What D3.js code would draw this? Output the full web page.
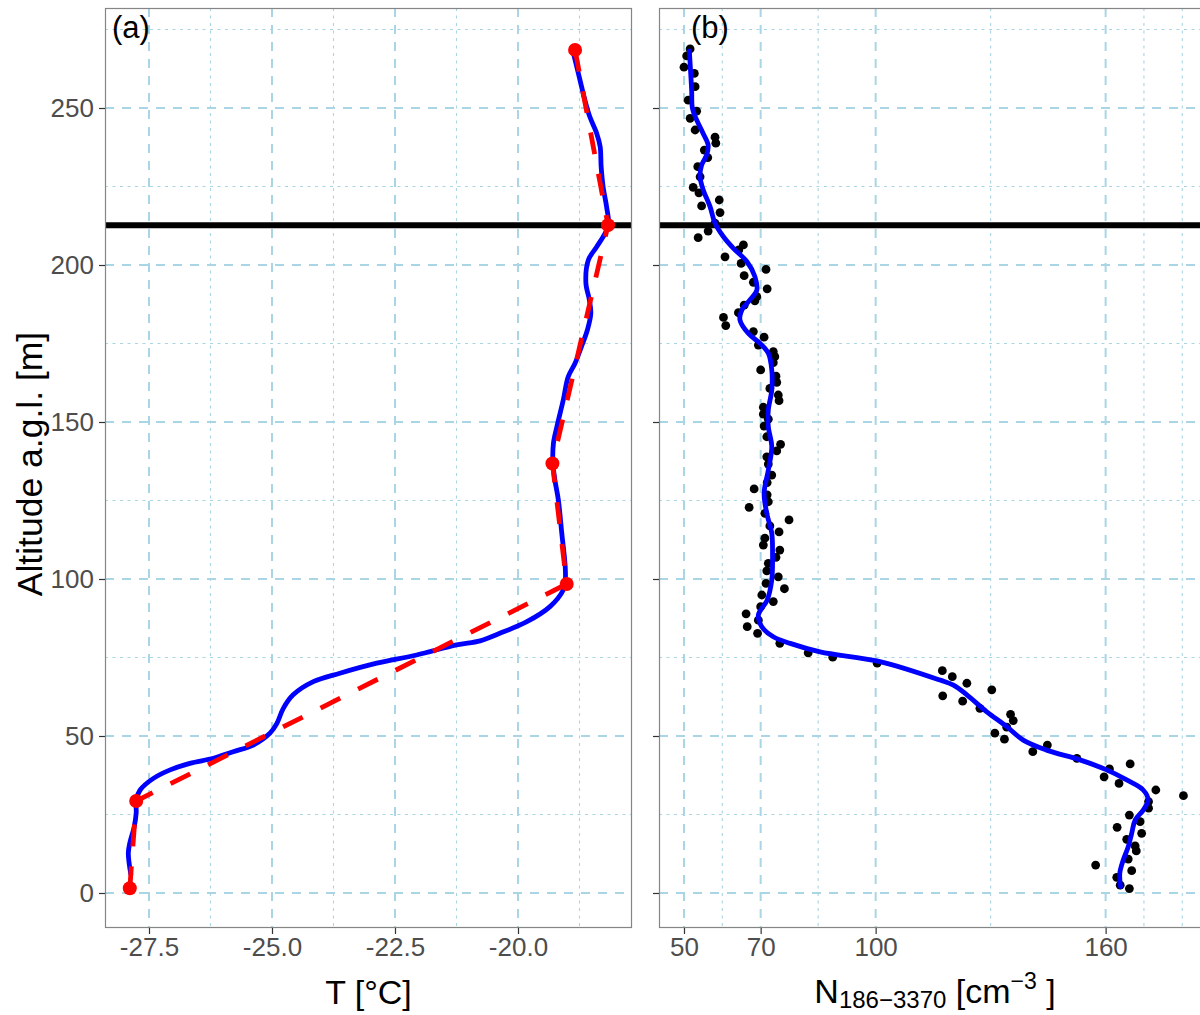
<!DOCTYPE html>
<html><head><meta charset="utf-8">
<script src="https://cdn.jsdelivr.net/npm/d3@7"></script>
<style>
body{margin:0;background:#fff;}
svg{display:block;font-family:"Liberation Sans",Arial,sans-serif;}
</style></head>
<body>
<svg id="chart" width="1200" height="1015"></svg>
<script>
// ---------- data ----------
// Panel (a): temperature profile (blue, smoothed)
const tempAlt = [6,12.7,15.9,21.1,25.5,29.6,32.8,36.5,39.2,41.3,42.9,45.0,47.1,50.9,54.0,58.8,63.1,67.3,70.0,73.2,75.8,79.0,80.3,82.7,86.4,91.2,96.5,99.1,103.9,114.6,125.2,131.5,136.8,143.2,148.5,157.0,164.4,168.7,174.0,179.3,184.6,188.9,194.2,201.6,205.8,210.1,212.7,218.6,224.9,231.3,237.7,241.9,247.2,252.5,258.9,265.3,267.9];
const tempT   = [-27.87,-27.92,-27.89,-27.80,-27.76,-27.76,-27.68,-27.41,-27.07,-26.67,-26.19,-25.79,-25.38,-25.04,-24.90,-24.77,-24.57,-24.16,-23.62,-22.87,-22.06,-21.25,-20.77,-20.37,-19.82,-19.35,-19.08,-19.04,-19.04,-19.11,-19.18,-19.25,-19.29,-19.28,-19.21,-19.08,-18.98,-18.84,-18.71,-18.59,-18.52,-18.55,-18.62,-18.57,-18.40,-18.23,-18.16,-18.20,-18.27,-18.31,-18.33,-18.40,-18.54,-18.64,-18.74,-18.84,-18.88];
// Panel (a): red dashed profile through points
const redAlt = [1.5,29.3,98.4,136.8,212.7,268.5];
const redT   = [-27.89,-27.76,-19.01,-19.30,-18.17,-18.84];
// Panel (b): particle number concentration observations
const obsAlt = [268.8,266.6,263.0,261.0,256.8,252.5,249.0,246.7,243.0,240.7,238.8,236.6,234.2,231.3,228.1,224.7,223.0,220.7,218.8,216.7,213.3,210.8,208.7,206.4,204.8,202.6,200.5,198.6,196.6,194.5,192.4,189.9,188.6,187.2,184.8,183.3,180.7,178.8,177.0,174.5,172.4,170.8,168.9,166.6,164.6,162.6,160.7,158.6,156.8,154.7,152.5,150.9,148.7,145.3,142.9,140.8,138.9,136.6,133.1,130.7,128.7,126.8,124.6,122.8,120.9,118.8,116.9,115.0,113.0,110.8,109.2,106.9,105.0,102.6,100.7,98.6,96.9,94.9,92.8,91.2,88.9,86.9,84.8,82.7,79.5,76.5,75.1,73.2,70.8,68.9,66.8,62.8,64.7,61.1,58.8,56.9,54.9,52.8,50.9,49.0,45.0,47.1,42.9,39.5,41.1,37.0,34.9,32.8,31.0,29.1,27.0,24.8,22.7,20.9,19.0,17.1,15.0,13.4,10.8,8.9,7.1,5.0,2.5,1.4];
const obsN   = [51.6,50.7,50.0,52.7,52.9,51.1,53.3,51.6,52.9,58.1,58.3,55.3,56.2,53.6,54.2,52.4,53.9,59.2,54.6,59.4,58.1,56.3,53.7,65.5,64.3,60.7,64.9,71.4,65.7,68.1,71.7,69.0,68.5,65.7,64.2,60.3,60.9,68.1,70.9,69.4,73.3,73.7,73.3,70.0,74.0,74.2,72.4,74.6,74.8,70.7,70.7,72.0,70.9,71.6,75.2,74.2,71.6,72.0,72.9,71.7,68.3,71.7,72.0,67.0,71.1,77.4,72.4,74.8,71.1,70.7,75.0,74.0,72.0,71.6,74.6,71.4,76.2,70.3,73.3,70.0,66.2,69.4,66.5,69.2,75.0,82.4,88.8,100.4,117.4,120.0,123.8,117.5,130.3,122.7,127.2,135.2,135.9,134.2,131.1,133.6,141.0,144.8,152.5,161.0,166.4,159.6,163.5,173.1,180.3,171.2,171.2,166.2,169.0,163.0,169.4,165.5,167.7,168.0,165.9,157.4,166.8,162.9,163.8,166.2];
// Panel (b): smoothed profile
const fitAlt = [268.2,262.1,255.7,249.9,246.2,241.9,238.2,235.0,231.8,228.1,224.0,218.6,213.3,209.0,205.3,201.1,196.3,192.0,188.9,185.7,182.5,178.2,175.1,171.9,166.6,160.2,153.8,148.5,142.1,134.7,127.3,120.9,114.6,108.2,99.7,93.3,88.5,84.8,81.6,79.5,76.8,73.7,67.8,66.2,63.1,57.7,53.0,48.7,45.5,42.4,39.2,36.0,32.8,29.6,26.4,23.2,19.0,14.7,10.5,6.3,2.0];
const fitN   = [51.4,51.7,52.0,52.2,53.3,55.0,56.3,55.9,54.6,54.2,55.0,56.8,58.1,60.3,62.9,66.4,68.5,69.0,67.2,65.1,64.6,66.8,69.8,72.0,72.9,72.9,72.0,72.0,72.9,72.0,70.9,71.6,72.9,73.1,72.9,71.7,69.4,70.3,73.3,77.7,85.5,101.1,116.8,120.3,123.8,129.0,134.2,138.5,144.6,153.3,160.3,165.5,169.8,171.1,169.8,167.7,166.8,165.9,164.6,163.7,163.9];
// Boundary layer top (black line)
const blTop = 212.7;
// Tick / grid definitions
const altMajor = [0,50,100,150,200,250];
const altMinor = [25,75,125,175,225,275];
const tMajor = [-27.5,-25,-22.5,-20];
const tMajorLabels = ["-27.5","-25.0","-22.5","-20.0"];
const tMinor = [-26.25,-23.75,-21.25,-18.75];
const nMajor = [50,70,100,160];
const nMinor = [60,85,130,170,180];

// ---------- layout ----------
const svg = d3.select("#chart");
const pTop = 8, pBottom = 928;
const pa = {x0:105, x1:632};
const pb = {x0:659, x1:1215};
const y = d3.scaleLinear().domain([-11.15, 281.85]).range([pBottom, pTop]);
const xa = d3.scaleLinear().domain([-28.394, -17.683]).range([pa.x0, pa.x1]);
const xb = d3.scaleLinear().domain([43.48, 43.48 + (pb.x1-pb.x0)/3.833]).range([pb.x0, pb.x1]);

const gridCol = "#a9d5e4";
const tickCol = "#4d4d4d";

function panel(p, xs, xMaj, xMin, id){
  const g = svg.append("g");
  svg.append("clipPath").attr("id", id).append("rect")
    .attr("x", p.x0).attr("y", pTop).attr("width", p.x1-p.x0).attr("height", pBottom-pTop);
  const gg = g.append("g").attr("clip-path", `url(#${id})`);
  gg.selectAll(".hmin").data(altMinor).join("line")
    .attr("x1", p.x0).attr("x2", p.x1).attr("y1", d=>y(d)).attr("y2", d=>y(d))
    .attr("stroke", gridCol).attr("stroke-width", 1.1).attr("stroke-dasharray", "3,4.5");
  gg.selectAll(".vmin").data(xMin).join("line")
    .attr("y1", pTop).attr("y2", pBottom).attr("x1", d=>xs(d)).attr("x2", d=>xs(d))
    .attr("stroke", gridCol).attr("stroke-width", 1.1).attr("stroke-dasharray", "3,4.5");
  gg.selectAll(".hmaj").data(altMajor).join("line")
    .attr("x1", p.x0).attr("x2", p.x1).attr("y1", d=>y(d)).attr("y2", d=>y(d))
    .attr("stroke", gridCol).attr("stroke-width", 2).attr("stroke-dasharray", "9,8");
  gg.selectAll(".vmaj").data(xMaj).join("line")
    .attr("y1", pTop).attr("y2", pBottom).attr("x1", d=>xs(d)).attr("x2", d=>xs(d))
    .attr("stroke", gridCol).attr("stroke-width", 2).attr("stroke-dasharray", "9,8");
  gg.append("line").attr("x1", p.x0).attr("x2", p.x1).attr("y1", y(blTop)).attr("y2", y(blTop))
    .attr("stroke", "#000").attr("stroke-width", 6);
  return {g, gg};
}

const A = panel(pa, xa, tMajor, tMinor, "clipA");
const B = panel(pb, xb, nMajor, nMinor, "clipB");

const tempData = tempAlt.map((a,i)=>({a, v:tempT[i]}));
const redData = redAlt.map((a,i)=>({a, v:redT[i]}));
A.gg.append("path").datum(tempData)
  .attr("d", d3.line().x(d=>xa(d.v)).y(d=>y(d.a)).curve(d3.curveCatmullRom))
  .attr("fill","none").attr("stroke","#0000ff").attr("stroke-width",4.8).attr("stroke-linejoin","round").attr("stroke-linecap","round");
A.gg.append("path").datum(redData)
  .attr("d", d3.line().x(d=>xa(d.v)).y(d=>y(d.a)))
  .attr("fill","none").attr("stroke","#ff0000").attr("stroke-width",4.8).attr("stroke-dasharray","22,20");
A.gg.selectAll(".rp").data(redData).join("circle")
  .attr("cx", d=>xa(d.v)).attr("cy", d=>y(d.a)).attr("r", 7).attr("fill","#ff0000");

const obsData = obsAlt.map((a,i)=>({a, v:obsN[i]}));
const fitData = fitAlt.map((a,i)=>({a, v:fitN[i]}));
B.gg.selectAll(".op").data(obsData).join("circle")
  .attr("cx", d=>xb(d.v)).attr("cy", d=>y(d.a)).attr("r", 4.4).attr("fill","#000");
B.gg.append("path").datum(fitData)
  .attr("d", d3.line().x(d=>xb(d.v)).y(d=>y(d.a)).curve(d3.curveCatmullRom))
  .attr("fill","none").attr("stroke","#0000ff").attr("stroke-width",4.8).attr("stroke-linejoin","round").attr("stroke-linecap","round");

[pa,pb].forEach(p=>{
  svg.append("rect").attr("x", p.x0+0.5).attr("y", pTop+0.5).attr("width", p.x1-p.x0-1).attr("height", pBottom-pTop-1)
    .attr("fill","none").attr("stroke","#858585").attr("stroke-width",1.2);
});

function yAxis(p, labels){
  const ax = d3.axisLeft(y).tickValues(altMajor).tickSize(6).tickPadding(5)
    .tickFormat(labels ? d3.format("d") : ()=>"");
  const g = svg.append("g").attr("transform", `translate(${p.x0},0)`).call(ax);
  g.select(".domain").remove();
  g.selectAll(".tick line").attr("stroke", "#333").attr("stroke-width", 1.2);
  g.selectAll(".tick text").attr("fill", tickCol).attr("font-size", 26).attr("font-family","Liberation Sans, Arial, sans-serif");
}
function xAxis(p, xs, vals, labels){
  const ax = d3.axisBottom(xs).tickValues(vals).tickSize(6).tickPadding(4)
    .tickFormat((d,i)=>labels[i]);
  const g = svg.append("g").attr("transform", `translate(0,${pBottom})`).call(ax);
  g.select(".domain").remove();
  g.selectAll(".tick line").attr("stroke", "#333").attr("stroke-width", 1.2);
  g.selectAll(".tick text").attr("fill", tickCol).attr("font-size", 26).attr("font-family","Liberation Sans, Arial, sans-serif");
}
yAxis(pa, true);
yAxis(pb, false);
xAxis(pa, xa, tMajor, tMajorLabels);
xAxis(pb, xb, nMajor, nMajor.map(String));

svg.append("text").attr("x", 112).attr("y", 38).attr("font-size", 31).attr("fill","#000").text("(a)");
svg.append("text").attr("x", 691).attr("y", 38).attr("font-size", 31).attr("fill","#000").text("(b)");

svg.append("text").attr("transform", "translate(42,464) rotate(-90)").attr("text-anchor","middle")
  .attr("font-size", 35.5).attr("fill","#000").text("Altitude a.g.l. [m]");
svg.append("text").attr("x", (pa.x0+pa.x1)/2).attr("y", 1004).attr("text-anchor","middle")
  .attr("font-size", 34).attr("fill","#000").text("T [°C]");
const nt = svg.append("text").attr("x", 935).attr("y", 1003).attr("text-anchor","middle")
  .attr("font-size", 34).attr("fill","#000");
nt.append("tspan").text("N");
nt.append("tspan").attr("font-size", 24).attr("dy", 5).text("186\u22123370");
nt.append("tspan").attr("dy", -5).text(" [cm");
nt.append("tspan").attr("font-size", 23).attr("dy", -14).text("\u22123");
nt.append("tspan").attr("dy", 14).text(" ]");
</script>
</body></html>
